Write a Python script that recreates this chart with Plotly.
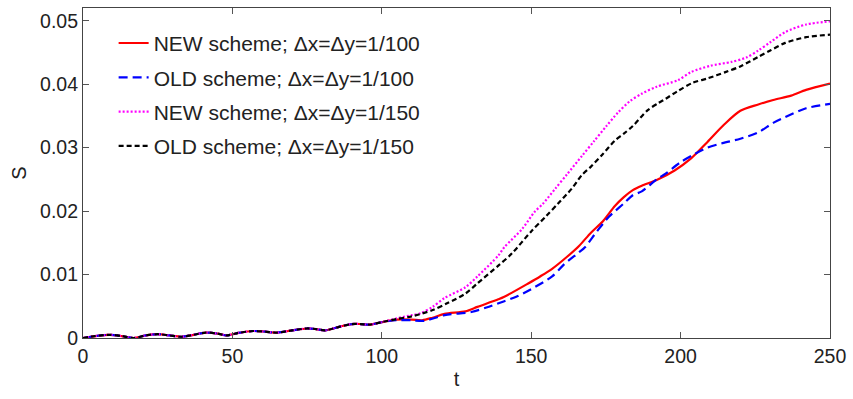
import plotly.graph_objects as go

# shared early part (curves coincide)
t_early = [0, 4, 9, 13, 17, 21, 25, 29, 33, 37, 41, 45, 48, 52, 57, 61, 65, 70, 75, 78, 81, 86, 90, 93, 96, 100]
s_early = [0.0, 0.0003, 0.0005, 0.0003, 0.0, 0.0004, 0.0006, 0.0004, 0.0002, 0.0005, 0.00085, 0.0007, 0.0004,
           0.0008, 0.0011, 0.001, 0.00085, 0.0012, 0.0015, 0.0014, 0.0012, 0.0018, 0.0022, 0.0022, 0.0021, 0.0025]

t_new100 = [105, 110, 113.5, 117, 121, 128, 132, 139, 141, 149, 153, 157, 162, 166, 170, 174, 178, 181, 184, 187,
            192, 198, 203.5, 209, 214.5, 220, 226, 231, 237, 242, 250]
s_new100 = [0.0029, 0.0029, 0.0028, 0.0032, 0.0038, 0.0042, 0.0049, 0.0061, 0.0065, 0.0086, 0.0097, 0.0109, 0.0128,
            0.0145, 0.0166, 0.0184, 0.0208, 0.0222, 0.0233, 0.0240, 0.0249, 0.0264, 0.0283, 0.0309, 0.0336, 0.0358,
            0.0368, 0.0375, 0.0382, 0.0391, 0.0401]

t_old100 = [105, 110, 114, 121, 130, 135, 141, 145, 150, 157, 161, 166, 168, 172, 176, 181, 184, 187, 192, 195,
            200, 204, 209, 214, 220, 226, 231, 235, 242, 250]
s_old100 = [0.0028, 0.0028, 0.0027, 0.0036, 0.0041, 0.0048, 0.0058, 0.0065, 0.0077, 0.0097, 0.0116, 0.0135, 0.0143,
            0.0168, 0.0191, 0.0212, 0.0225, 0.0231, 0.0250, 0.0259, 0.0277, 0.0288, 0.0300, 0.0307, 0.0314, 0.0324,
            0.0339, 0.0348, 0.0362, 0.0369]

t_new150 = [105, 110, 113, 117, 121, 128, 132, 139, 141, 147, 151, 154, 158, 162, 167, 171, 175, 179, 183, 187,
            192, 199, 203.5, 210, 217, 222, 226, 230, 235, 242, 250]
s_new150 = [0.0031, 0.0036, 0.0039, 0.0049, 0.0063, 0.0080, 0.0097, 0.0130, 0.0143, 0.0172, 0.0198, 0.0212, 0.0235,
            0.0258, 0.0287, 0.0310, 0.0333, 0.0355, 0.0373, 0.0385, 0.0396, 0.0406, 0.0419, 0.0429, 0.0435, 0.0442,
            0.0453, 0.0466, 0.0482, 0.0494, 0.0499]

t_old150 = [105, 110, 117, 122, 128, 132, 139, 143.5, 150, 155, 159, 163.5, 167, 170, 174, 178, 181, 184, 189,
            192.5, 195, 199, 204, 209, 215, 220, 226, 230, 235, 242, 250]
s_old150 = [0.0030, 0.0034, 0.0044, 0.0055, 0.0070, 0.0086, 0.0114, 0.0133, 0.0168, 0.0192, 0.0212, 0.0235, 0.0257,
            0.0270, 0.0290, 0.0311, 0.0322, 0.0334, 0.0359, 0.0370, 0.0377, 0.0389, 0.0402, 0.0409, 0.0419, 0.0428,
            0.0443, 0.0453, 0.0465, 0.0474, 0.0478]

x_ticks = [0, 50, 100, 150, 200, 250]
y_ticks = [0, 0.01, 0.02, 0.03, 0.04, 0.05]
y_ticklabels = ["0", "0.01", "0.02", "0.03", "0.04", "0.05"]

names = ["NEW scheme; \u0394x=\u0394y=1/100", "OLD scheme; \u0394x=\u0394y=1/100",
         "NEW scheme; \u0394x=\u0394y=1/150", "OLD scheme; \u0394x=\u0394y=1/150"]

series = [
    (t_new100, s_new100, "#ff0000", "solid"),
    (t_old100, s_old100, "#0000ff", "9px,5px"),
    (t_new150, s_new150, "#ff00ff", "2px,2px"),
    (t_old150, s_old150, "#000000", "5px,3px"),
]

fig = go.Figure()
for i, (tt, ss, col, dash) in enumerate(series):
    fig.add_trace(go.Scatter(
        x=t_early + tt, y=s_early + ss, mode="lines", name=names[i],
        legendgroup=str(i),
        line=dict(color=col, width=2.2, dash=dash, shape="spline", smoothing=0.8),
    ))

font = "Liberation Sans, Arial, Helvetica, sans-serif"
axis_common = dict(
    showline=True, linecolor="#444", linewidth=1.2, mirror="ticks",
    ticks="inside", ticklen=6, tickcolor="#555", tickwidth=1,
    showgrid=False, zeroline=False,
    tickfont=dict(family=font, size=19.5, color="#222"),
)

fig.update_layout(
    width=853, height=399,
    margin=dict(l=83, r=21, t=7, b=61),
    paper_bgcolor="white", plot_bgcolor="white",
    font=dict(family=font, size=19.5, color="#222"),
    showlegend=True,
    legend=dict(x=0.041, y=0.955, xanchor="left", yanchor="top",
                bgcolor="rgba(0,0,0,0)", borderwidth=0,
                tracegroupgap=4, traceorder="grouped",
                font=dict(family=font, size=21, color="#222")),
    xaxis=dict(range=[0, 250], tickvals=x_ticks, ticktext=[str(v) for v in x_ticks],
               title=dict(text="t", standoff=6, font=dict(family=font, size=20)), **axis_common),
    yaxis=dict(range=[0, 0.052], tickvals=y_ticks, ticktext=y_ticklabels,
               title=dict(text="S", standoff=8, font=dict(family=font, size=20)), **axis_common),
)

fig.write_html("out.html")
